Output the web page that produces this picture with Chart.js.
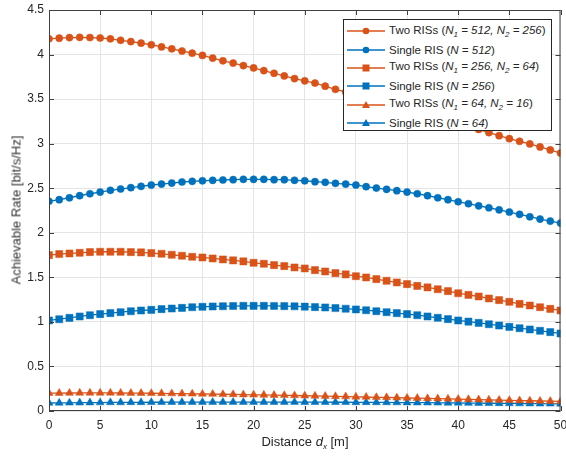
<!DOCTYPE html>
<html>
<head>
<meta charset="utf-8">
<script src="https://cdn.jsdelivr.net/npm/chart.js@4"></script>
<style>
    html, body { margin: 0; padding: 0; background: #fff; }
    #wrap { position: relative; width: 566px; height: 457px; font-family: "Liberation Sans", Arial, sans-serif; color: #262626; }
    #legend {
        position: absolute; left: 343px; top: 19px; width: 209px; height: 112px;
        border: 1px solid #262626; background: #fff; box-sizing: border-box; padding-top: 2px;
    }
    .row { height: 18.4px; display: flex; align-items: center; font-size: 11.5px; white-space: nowrap; }
    .row svg { margin-left: 3px; margin-right: 4px; flex: none; }
    sub { font-size: 8px; vertical-align: -3px; }
    #xtitle { position: absolute; left: 0; width: 566px; top: 434px; text-align: center; font-size: 13px; }
    #xtitle span { position: relative; left: 22px; }
    #ytitle {
        position: absolute; left: 16px; top: 210px; font-size: 13px; white-space: nowrap; color: #333;
        transform: translate(-50%, -50%) rotate(-90deg);
    }
</style>
</head>
<body>
<div id="wrap">
    <canvas id="chart" width="566" height="457"></canvas>
    <div id="legend"></div>
    <div id="xtitle"><span>Distance <i>d</i><sub><i>x</i></sub> [m]</span></div>
    <div id="ytitle">Achievable Rate [bit/s/Hz]</div>
</div>
<script>
const distance = [0, 1, 2, 3, 4, 5, 6, 7, 8, 9, 10, 11, 12, 13, 14, 15, 16, 17, 18, 19, 20,
    21, 22, 23, 24, 25, 26, 27, 28, 29, 30, 31, 32, 33, 34, 35, 36, 37, 38, 39, 40,
    41, 42, 43, 44, 45, 46, 47, 48, 49, 50];

const twoRis512 = [4.176, 4.184, 4.19, 4.193, 4.191, 4.186, 4.176, 4.16, 4.146, 4.128,
    4.11, 4.086, 4.064, 4.04, 4.015, 3.99, 3.96, 3.93, 3.905, 3.876,
    3.85, 3.82, 3.79, 3.76, 3.73, 3.705, 3.68, 3.645, 3.61, 3.58,
    3.55, 3.52, 3.49, 3.455, 3.42, 3.385, 3.355, 3.32, 3.29, 3.255,
    3.225, 3.19, 3.16, 3.124, 3.09, 3.056, 3.027, 2.997, 2.963, 2.93, 2.895];
const singleRis512 = [2.353, 2.371, 2.393, 2.416, 2.438, 2.457, 2.476, 2.491, 2.506, 2.521,
    2.536, 2.547, 2.558, 2.57, 2.577, 2.584, 2.589, 2.592, 2.596, 2.6,
    2.6, 2.6, 2.596, 2.596, 2.589, 2.584, 2.573, 2.566, 2.555, 2.547,
    2.536, 2.517, 2.502, 2.488, 2.472, 2.457, 2.438, 2.416, 2.393, 2.371,
    2.348, 2.326, 2.303, 2.281, 2.258, 2.233, 2.207, 2.18, 2.154, 2.131, 2.109];
const twoRis256 = [1.749, 1.761, 1.768, 1.775, 1.783, 1.787, 1.787, 1.787, 1.783, 1.78,
    1.772, 1.764, 1.753, 1.742, 1.73, 1.723, 1.712, 1.701, 1.69, 1.679,
    1.663, 1.652, 1.637, 1.626, 1.611, 1.6, 1.581, 1.566, 1.547, 1.533,
    1.513, 1.499, 1.48, 1.461, 1.443, 1.424, 1.404, 1.387, 1.367, 1.345,
    1.322, 1.303, 1.285, 1.263, 1.244, 1.225, 1.202, 1.184, 1.165, 1.146, 1.128];
const singleRis256 = [1.016, 1.03, 1.045, 1.061, 1.075, 1.087, 1.098, 1.109, 1.12, 1.128,
    1.135, 1.143, 1.15, 1.157, 1.165, 1.169, 1.173, 1.176, 1.178, 1.18,
    1.18, 1.18, 1.179, 1.177, 1.175, 1.171, 1.166, 1.162, 1.155, 1.148,
    1.14, 1.131, 1.12, 1.109, 1.098, 1.087, 1.075, 1.061, 1.046, 1.031,
    1.016, 1.003, 0.989, 0.974, 0.959, 0.944, 0.929, 0.915, 0.9, 0.885, 0.87];
const twoRis64 = [0.2, 0.201, 0.202, 0.203, 0.203, 0.203, 0.203, 0.202, 0.201, 0.2,
    0.199, 0.198, 0.196, 0.195, 0.193, 0.191, 0.19, 0.188, 0.186, 0.184,
    0.182, 0.18, 0.178, 0.176, 0.174, 0.171, 0.169, 0.167, 0.164, 0.162,
    0.159, 0.157, 0.154, 0.152, 0.149, 0.146, 0.144, 0.141, 0.139, 0.136,
    0.133, 0.131, 0.128, 0.125, 0.123, 0.12, 0.117, 0.115, 0.112, 0.11, 0.107];
const singleRis64 = [0.09, 0.091, 0.092, 0.093, 0.094, 0.095, 0.096, 0.096, 0.097, 0.097,
    0.098, 0.098, 0.099, 0.099, 0.099, 0.1, 0.1, 0.1, 0.1, 0.1,
    0.1, 0.1, 0.1, 0.1, 0.1, 0.099, 0.099, 0.099, 0.098, 0.098,
    0.097, 0.097, 0.096, 0.096, 0.095, 0.094, 0.094, 0.093, 0.092, 0.091,
    0.09, 0.089, 0.088, 0.087, 0.086, 0.085, 0.084, 0.083, 0.082, 0.081, 0.08];

const xTicks = [0, 5, 10, 15, 20, 25, 30, 35, 40, 45, 50];
const yTicks = [0, 0.5, 1, 1.5, 2, 2.5, 3, 3.5, 4, 4.5];

const seriesNames = [
    'Two RISs (<i>N</i><sub><i>1</i></sub><i> = 512, N</i><sub><i>2</i></sub><i> = 256</i>)',
    'Single RIS (<i>N = 512</i>)',
    'Two RISs (<i>N</i><sub><i>1</i></sub><i> = 256, N</i><sub><i>2</i></sub><i> = 64</i>)',
    'Single RIS (<i>N = 256</i>)',
    'Two RISs (<i>N</i><sub><i>1</i></sub><i> = 64, N</i><sub><i>2</i></sub><i> = 16</i>)',
    'Single RIS (<i>N = 64</i>)'
];
const seriesValues = [twoRis512, singleRis512, twoRis256, singleRis256, twoRis64, singleRis64];

const ORANGE = '#D95319';
const BLUE = '#0072BD';
const styles = [
    { color: ORANGE, shape: 'circle', r: 3.6 },
    { color: BLUE, shape: 'circle', r: 3.6 },
    { color: ORANGE, shape: 'rect', r: 5 },
    { color: BLUE, shape: 'rect', r: 5 },
    { color: ORANGE, shape: 'triangle', r: 4.6 },
    { color: BLUE, shape: 'triangle', r: 4.6 }
];

const datasets = seriesValues.map((vals, i) => ({
    label: seriesNames[i],
    data: vals.map((v, k) => ({ x: distance[k], y: v })),
    borderColor: styles[i].color,
    backgroundColor: styles[i].color,
    borderWidth: 1.3,
    pointStyle: styles[i].shape,
    pointRadius: styles[i].r,
    pointBorderWidth: 0.5,
    tension: 0
}));

// Рамка и внутренние штрихи, как в MATLAB
const boxPlugin = {
    id: 'box',
    afterDatasetsDraw(chart) {
        const { ctx, chartArea: a, scales } = chart;
        ctx.save();
        ctx.strokeStyle = '#404040';
        ctx.lineWidth = 1;
        ctx.strokeRect(a.left + 0.5, a.top + 0.5, a.right - a.left - 1, a.bottom - a.top - 1);
        ctx.beginPath();
        xTicks.forEach(t => {
            const px = Math.round(scales.x.getPixelForValue(t)) + 0.5;
            ctx.moveTo(px, a.bottom); ctx.lineTo(px, a.bottom - 5);
            ctx.moveTo(px, a.top); ctx.lineTo(px, a.top + 5);
        });
        yTicks.forEach(t => {
            const py = Math.round(scales.y.getPixelForValue(t)) + 0.5;
            ctx.moveTo(a.left, py); ctx.lineTo(a.left + 5, py);
            ctx.moveTo(a.right, py); ctx.lineTo(a.right - 5, py);
        });
        ctx.stroke();
        ctx.restore();
    }
};

const tickFont = { family: 'Liberation Sans', size: 12 };

new Chart(document.getElementById('chart'), {
    type: 'line',
    data: { datasets },
    options: {
        responsive: false,
        animation: false,
        layout: { padding: { top: 10, right: 5, left: 0, bottom: 0 } },
        plugins: { legend: { display: false }, tooltip: { enabled: false } },
        scales: {
            x: {
                type: 'linear',
                min: 0, max: 50,
                afterFit(scale) {
                    scale.height = 46;
                    scale.paddingLeft = 0;
                    scale.paddingRight = 0;
                },
                afterBuildTicks(scale) { scale.ticks = xTicks.map(v => ({ value: v })); },
                ticks: { padding: 7, color: '#262626', font: tickFont, maxRotation: 0, callback: v => String(v) },
                grid: { color: '#e4e4e4', drawTicks: false },
                border: { display: false }
            },
            y: {
                min: 0, max: 4.5,
                afterFit(scale) {
                    scale.width = 49;
                    scale.paddingTop = 0;
                    scale.paddingBottom = 0;
                },
                afterBuildTicks(scale) { scale.ticks = yTicks.map(v => ({ value: v })); },
                ticks: { padding: 5, color: '#262626', font: tickFont, callback: v => String(v) },
                grid: { color: '#e4e4e4', drawTicks: false },
                border: { display: false }
            }
        }
    },
    plugins: [boxPlugin]
});

// Легенда в HTML (нужны индексы и курсив)
function markerSvg(st) {
    let m = '';
    if (st.shape === 'circle') m = `<circle cx="19" cy="5" r="3.3" fill="${st.color}"/>`;
    else if (st.shape === 'rect') m = `<rect x="15.5" y="1.5" width="7" height="7" fill="${st.color}"/>`;
    else m = `<polygon points="19,1 23,8 15,8" fill="${st.color}"/>`;
    return `<svg width="38" height="10"><line x1="0" y1="5" x2="38" y2="5" stroke="${st.color}" stroke-width="1.3"/>${m}</svg>`;
}
const legend = document.getElementById('legend');
seriesNames.forEach((name, i) => {
    const row = document.createElement('div');
    row.className = 'row';
    row.innerHTML = markerSvg(styles[i]) + '<span>' + name + '</span>';
    legend.appendChild(row);
});
</script>
</body>
</html>
